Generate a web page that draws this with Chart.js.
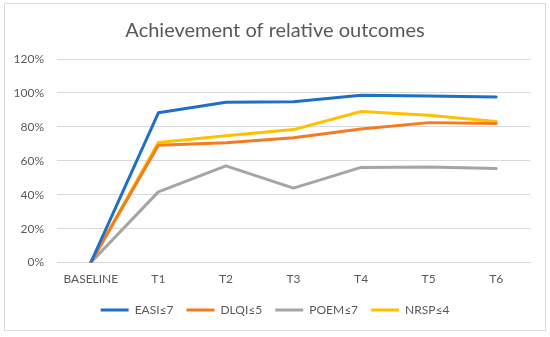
<!DOCTYPE html>
<html>
<head>
<meta charset="utf-8">
<script src="https://cdn.jsdelivr.net/npm/chart.js@4"></script>
<style>
  html, body { margin: 0; padding: 0; background: #fff; }
  #wrap { position: relative; width: 550px; height: 337px; }
  #frame { position: absolute; left: 4px; top: 3px; width: 540px; height: 326px; border: 1px solid #d9d9d9; pointer-events: none; }
</style>
</head>
<body>
<div id="wrap">
  <canvas id="c" width="550" height="337"></canvas>
  <div id="frame"></div>
</div>
<script>
const categories = ["BASELINE", "T1", "T2", "T3", "T4", "T5", "T6"];
const easi = [0, 88.3, 94.5, 94.8, 98.6, 98.2, 97.6];
const dlqi = [0, 69.2, 70.6, 73.6, 78.8, 82.5, 82.0];
const poem = [0, 41.7, 57.0, 43.9, 56.1, 56.3, 55.4];
const nrsp = [0, 70.8, 74.8, 78.4, 89.1, 86.9, 83.2];
const seriesNames = ["EASI\u22647", "DLQI\u22645", "POEM\u22647", "NRSP\u22644"];
const yTicks = [0, 20, 40, 60, 80, 100, 120];

const colors = ["#1F6FC6", "#F47B20", "#A5A5A5", "#FFC000"];
const font = "Lato, 'Open Sans', sans-serif";

const mk = (label, data, color) => ({
  label, data, borderColor: color, backgroundColor: color,
  borderWidth: 3, pointRadius: 0, tension: 0, fill: false,
  borderCapStyle: 'round', borderJoinStyle: 'round'
});

new Chart(document.getElementById('c'), {
  type: 'line',
  data: {
    labels: categories,
    datasets: [
      mk(seriesNames[0], easi, colors[0]),
      mk(seriesNames[1], dlqi, colors[1]),
      mk(seriesNames[2], poem, colors[2]),
      mk(seriesNames[3], nrsp, colors[3])
    ]
  },
  options: {
    responsive: false,
    animation: false,
    layout: { padding: { left: 0, right: 0, top: 8, bottom: 11 } },
    plugins: {
      title: {
        display: true, text: "Achievement of relative outcomes",
        color: "#595959", font: { family: font, size: 20, weight: 'normal' },
        padding: { top: 11, bottom: 16 }
      },
      legend: {
        position: 'bottom',
        labels: {
          color: "#595959", font: { family: font, size: 12 },
          boxWidth: 28, boxHeight: 3, padding: 13,
          generateLabels(chart) {
            return chart.data.datasets.map((d, i) => ({
              text: d.label, fillStyle: d.borderColor, strokeStyle: d.borderColor,
              lineWidth: 0, hidden: false, datasetIndex: i, fontColor: "#595959"
            }));
          }
        }
      },
      tooltip: { enabled: false }
    },
    scales: {
      x: {
        offset: true,
        afterFit(s) { s.height += 4; },
        grid: { display: false },
        border: { display: true, color: "#d9d9d9", width: 1 },
        ticks: { color: "#595959", font: { family: font, size: 12 }, padding: 1, maxRotation: 0 }
      },
      y: {
        min: 0, max: 120,
        afterFit(s) { s.width = 57; },
        afterBuildTicks(s) { s.ticks = yTicks.map(v => ({ value: v })); },
        grid: { color: "#d9d9d9", lineWidth: 1, drawTicks: false },
        border: { display: false },
        ticks: { color: "#595959", font: { family: font, size: 12 }, padding: 13, callback: v => v + "%" }
      },
      yR: {
        position: 'right',
        display: true,
        afterFit(s) { s.width = 20; },
        grid: { display: false, drawTicks: false },
        border: { display: false },
        ticks: { display: false }
      }
    }
  }
});
</script>
</body>
</html>
